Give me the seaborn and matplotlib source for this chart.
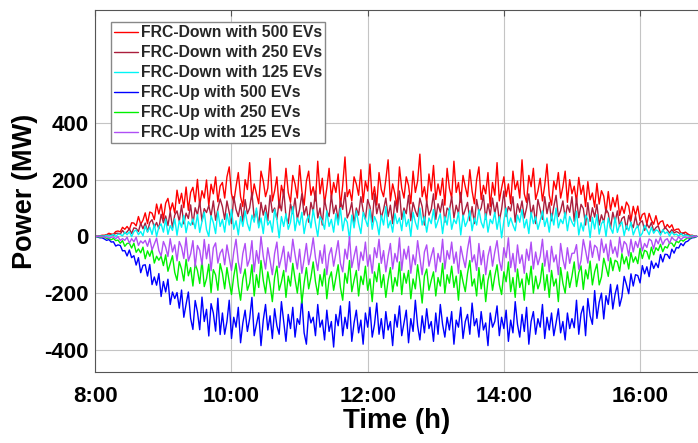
import numpy as np
import pandas as pd
import matplotlib
matplotlib.use("Agg")
import matplotlib.pyplot as plt
import seaborn as sns

# ---------------- data (2-minute samples from 8:00 to 16:50) ----------------
N_POINTS = 266
TIME_H = [8 + i / 30 for i in range(N_POINTS)]

SERIES_NAMES = ["FRC-Down with 500 EVs", "FRC-Down with 250 EVs", "FRC-Down with 125 EVs",
                "FRC-Up with 500 EVs", "FRC-Up with 250 EVs", "FRC-Up with 125 EVs"]
SERIES_COLORS = ["#FF0000", "#AA1E3C", "#00F5F5", "#0000FF", "#00F000", "#B04EF5"]

down_500 = [
    0, 1, 2, 4, 4, 6, 11, 8, 8, 17, 19, 16, 32, 25, 35, 24, 48, 47, 37, 70,
    43, 57, 83, 45, 86, 82, 59, 114, 79, 114, 61, 117, 134, 89, 118, 82, 163, 116, 152, 101,
    174, 92, 155, 173, 122, 201, 109, 161, 135, 199, 108, 184, 150, 210, 122, 177,
    190, 135, 210, 245, 150, 120, 175, 225, 140, 105, 200, 165, 260, 130, 185, 150, 115, 230, 195, 140,
    170, 275, 125, 160, 210, 100, 180, 145, 240, 155, 120, 215, 185, 135, 250, 160, 110, 195, 230, 145,
    175, 125, 265, 150, 205, 115, 170, 240, 135, 190, 155, 220, 105, 180, 280, 140, 165, 125, 210, 185,
    145, 235, 120, 195, 160, 255, 130, 175, 110, 225, 165, 140, 200, 270, 125, 185, 150, 105, 245, 170,
    135, 210, 180, 115, 230, 155, 195, 290, 140, 175, 120, 220, 160, 250, 130, 185, 145, 205, 110, 240,
    170, 135, 265, 155, 190, 120, 215, 175, 140, 235, 160, 115, 200, 245, 130, 180, 150, 225, 105, 190,
    145, 260, 125, 170, 210, 140, 185, 115, 230, 165, 195, 135, 270, 150, 120, 215, 175, 240, 130, 160,
    205, 125, 180, 255, 145, 110, 195, 165, 225, 135, 175, 230, 120, 200, 150,
    177, 122, 208, 148, 180, 105, 193, 129, 153, 103, 187, 114, 161, 142, 83, 158, 92, 137, 104, 146,
    74, 106, 81, 121, 107, 56, 106, 74, 107, 55, 77, 82, 43, 81, 57, 43, 73, 40, 52, 55,
    28, 42, 31, 41, 20, 25, 26, 12, 12, 15, 9, 4, 4, 1, 0]

down_250 = [
    0, 0, 2, 2, 2, 5, 4, 7, 4, 11, 11, 8, 21, 10, 16, 27, 10, 30, 28, 17,
    46, 27, 47, 16, 49, 59, 32, 49, 27, 78, 48, 72, 38, 88, 31, 75, 90, 53, 110, 44,
    82, 63, 111, 42, 101, 76, 123, 54, 98, 84, 109, 71, 125, 57, 97, 132,
    105, 60, 125, 85, 45, 140, 95, 70, 115, 50, 130, 80, 100, 155, 65, 90, 40, 120, 75, 110,
    55, 145, 85, 100, 60, 125, 90, 165, 70, 45, 115, 80, 135, 60, 95, 150, 75, 105, 50, 120,
    85, 160, 65, 100, 40, 130, 90, 70, 145, 80, 110, 55, 125, 95, 155, 65, 85, 120, 45, 100,
    75, 140, 90, 60, 130, 105, 50, 150, 80, 115, 65, 95, 135, 70, 110, 45, 125, 85, 160, 60,
    100, 80, 145, 55, 120, 90, 70, 135, 105, 40, 125, 75, 95, 150, 60, 115, 85, 130, 50, 100,
    90, 140, 65, 110, 80, 155, 70, 95, 120, 55, 105, 45, 130, 85, 100, 145, 60, 115, 75, 135,
    80, 120, 55, 95, 160, 70, 105, 90, 140, 50, 115, 85, 125, 65, 100, 150, 75, 110, 45, 130,
    95, 60, 140, 80, 120, 55, 105, 145, 70, 90, 125, 65, 110, 85, 140,
    53, 136, 66, 113, 98, 40, 119, 53, 101, 68, 113, 40, 76, 50, 96, 82, 28, 85, 51, 90,
    35, 63, 70, 26, 74, 47, 31, 72, 32, 49, 55, 21, 44, 30, 49, 19, 31, 37, 12, 18,
    33, 23, 12, 24, 12, 17, 13, 6, 12, 6, 6, 2, 3, 1, 0]

down_125 = [
    0, 0, 1, 1, 1, 4, 1, 3, 7, 0, 8, 7, 2, 15, 6, 16, -1, 17, 23, 6,
    17, 2, 36, 15, 32, 7, 43, 0, 33, 44, 15, 61, 7, 38, 21, 62, 4, 55, 32, 74,
    13, 52, 39, 62, 27, 77, 14, 52, 86, 24, 0, 73, 49, 10, 89, 35,
    60, 15, 80, 40, 95, 25, 55, 5, 70, 35, 90, 45, 20, 75, 50, 100, 30, 65, 10, 85,
    40, 55, 15, 95, 60, -5, 70, 35, 80, 25, 50, 105, 20, 65, 40, 85, 10, 55, 75, 30,
    95, 45, 0, 70, 55, 25, 90, 35, 60, 15, 80, 40, 100, 20, 65, 50, -10, 75, 30, 90,
    45, 10, 85, 60, 35, 95, 25, 70, 50, 5, 75, 40, 105, 30, 55, 15, 80, 45, 65, 20,
    90, 35, 60, 0, 85, 50, 25, 100, 40, 70, 15, 65, 45, 95, 30, 55, 80, 10, 70, 40,
    100, 25, 60, 45, 85, 5, 75, 35, 55, 90, 20, 65, 40, 95, 50, 30, 80, 15, 60, 45,
    85, 25, 70, -5, 55, 100, 35, 65, 40, 20, 75, 50, 95, 30, 60, 10, 85, 45, 70, 25,
    55, 90, 35, 65, 15, 80, 40, 100, 30, 60, 45, 85, 20, 70, 50,
    35, 89, 5, 48, 19, 75, 60, -4, 67, 26, 77, 8, 45, 56, 0, 65, 30, 11, 67, 14,
    40, 51, 3, 39, 20, 50, 5, 26, 38, 0, 11, 39, 23, 6, 32, 11, 23, 19, 4, 24,
    10, 16, 1, 16, 5, 8, 1, 11, 2, 5, 3, 0, 2, 0, 0]

up_500 = [
    0, -2, -5, -5, -9, -14, -11, -20, -19, -34, -30, -32, -51, -50, -69, -48, -75, -68, -101, -75,
    -128, -102, -100, -140, -99, -170, -143, -172, -131, -212, -159, -196, -151, -240, -196, -219, -198, -253, -189, -285,
    -239, -196, -289, -328, -226, -266, -329, -214, -300, -257, -351, -237, -270, -334, -218, -346,
    -270, -345, -300, -225, -360, -285, -320, -250, -375, -305, -260, -335, -290, -215, -350, -310, -270, -385, -295, -240,
    -330, -280, -360, -255, -315, -345, -230, -300, -370, -275, -325, -250, -355, -290, -310, -220, -340, -380, -265, -305,
    -285, -350, -240, -320, -295, -365, -260, -335, -300, -390, -275, -315, -245, -350, -285, -325, -230, -370, -305, -260,
    -340, -295, -380, -270, -320, -250, -355, -310, -235, -345, -290, -360, -265, -330, -300, -385, -275, -320, -245, -350,
    -305, -260, -375, -290, -335, -225, -315, -365, -280, -340, -255, -325, -300, -370, -270, -345, -240, -310, -355, -285,
    -330, -265, -380, -295, -320, -250, -360, -300, -275, -345, -235, -315, -290, -355, -265, -330, -305, -385, -270, -320,
    -300, -245, -350, -285, -325, -260, -370, -295, -340, -230, -310, -355, -275, -335, -250, -380, -300, -265, -345, -290,
    -320, -240, -360, -285, -330, -270, -350, -305, -255, -340, -300, -365, -270, -325, -290,
    -322, -225, -345, -273, -246, -350, -219, -280, -310, -191, -289, -232, -200, -291, -209, -240, -169, -256, -204, -171,
    -246, -213, -141, -170, -202, -132, -175, -135, -138, -164, -103, -132, -107, -142, -87, -113, -94, -110, -64, -90,
    -63, -64, -78, -45, -59, -39, -41, -25, -33, -20, -17, -9, -5, -4, 0]

up_250 = [
    0, -1, -3, -3, -3, -7, -7, -12, -7, -15, -13, -24, -15, -35, -25, -24, -41, -24, -56, -44,
    -58, -38, -79, -51, -70, -46, -94, -70, -84, -70, -103, -65, -123, -95, -68, -127, -155, -89, -115, -157,
    -81, -139, -110, -175, -97, -120, -166, -84, -177, -149, -98, -198, -117, -136, -190, -96,
    -130, -185, -110, -160, -205, -140, -95, -175, -225, -150, -115, -190, -165, -100, -210, -135, -180, -85, -155, -200,
    -125, -170, -230, -145, -105, -190, -160, -120, -215, -140, -175, -95, -150, -200, -130, -235, -165, -110, -185, -145,
    -90, -160, -205, -135, -175, -115, -220, -150, -125, -190, -145, -100, -180, -225, -130, -165, -85, -195, -155, -120,
    -210, -140, -170, -105, -190, -150, -230, -125, -160, -95, -180, -135, -215, -155, -110, -195, -145, -175, -90, -205,
    -130, -165, -120, -220, -150, -185, -100, -160, -235, -140, -115, -190, -155, -125, -210, -145, -175, -95, -200, -135,
    -165, -105, -180, -140, -225, -120, -160, -195, -130, -85, -175, -150, -210, -110, -185, -135, -230, -155, -120, -190,
    -140, -100, -170, -205, -125, -160, -90, -195, -145, -215, -115, -180, -150, -225, -130, -170, -105, -200, -140, -185,
    -160, -95, -190, -135, -215, -120, -175, -150, -230, -110, -165, -200, -125, -180, -140,
    -90, -177, -128, -104, -187, -118, -150, -87, -171, -125, -97, -171, -143, -77, -108, -141, -76, -121, -84, -90,
    -123, -61, -97, -72, -115, -57, -91, -72, -96, -42, -78, -49, -54, -80, -38, -65, -40, -50, -28, -54,
    -36, -41, -23, -24, -36, -17, -22, -11, -17, -10, -6, -7, -2, -2, 0]

up_125 = [
    0, 0, -1, -1, -3, -1, -6, -3, -2, -8, -1, -14, -8, -14, -3, -24, -8, -19, -3, -32,
    -16, -24, -14, -35, -8, -48, -27, -6, -50, -69, -18, -38, -71, -8, -55, -30, -86, -18, -38, -78,
    -4, -87, -62, -15, -107, -32, -49, -100, -11, -79, -28, -121, -40, -23, -94, -59,
    -45, -100, -30, -75, -120, -55, -10, -90, -130, -60, -25, -105, -80, -15, -125, -50, -95, 0, -70, -115,
    -40, -85, -135, -60, -20, -110, -75, -35, -125, -55, -90, -10, -65, -115, -45, -130, -80, -25, -100, -60,
    -5, -75, -120, -50, -95, -30, -135, -65, -40, -105, -60, -15, -95, -125, -45, -80, 0, -110, -70, -35,
    -120, -55, -85, -20, -105, -65, -130, -40, -75, -10, -95, -50, -125, -70, -25, -115, -60, -90, -5, -120,
    -45, -80, -35, -130, -65, -100, -15, -75, -135, -55, -30, -105, -70, -40, -125, -60, -90, -10, -115, -50,
    -80, -20, -95, -55, -130, -35, -75, -110, -45, 0, -90, -65, -120, -25, -100, -50, -135, -70, -35, -105,
    -55, -15, -85, -120, -40, -75, -5, -110, -60, -125, -30, -95, -65, -130, -45, -85, -20, -115, -55, -100,
    -70, -10, -105, -50, -125, -35, -90, -65, -135, -25, -80, -115, -40, -95, -60,
    -59, -29, -116, -85, -11, -50, -94, -16, -74, -31, -40, -85, -9, -57, -27, -86, -13, -60, -37, -73,
    -3, -57, -18, -28, -69, -10, -55, -18, -39, -5, -51, -25, -39, -9, -15, -44, -10, -26, -3, -29,
    -13, -8, -25, -3, -12, -15, -1, -11, -4, -2, -6, -2, -2, 0, 0]

SERIES_VALUES = [down_500, down_250, down_125, up_500, up_250, up_125]

X_TICKS = [8, 10, 12, 14, 16]
X_TICK_LABELS = ["8:00", "10:00", "12:00", "14:00", "16:00"]
Y_TICKS = [-400, -200, 0, 200, 400]

# ---------------- build long-form table ----------------
frames = []
for name, vals in zip(SERIES_NAMES, SERIES_VALUES):
    frames.append(pd.DataFrame({"time": TIME_H, "power": vals, "series": name}))
df = pd.concat(frames, ignore_index=True)

# ---------------- style ----------------
sns.set_theme(style="white")
plt.rcParams["font.family"] = ["Liberation Sans", "DejaVu Sans"]
plt.rcParams["font.weight"] = "bold"
plt.rcParams["axes.unicode_minus"] = False

W, H = 698, 443
fig = plt.figure(figsize=(W / 100, H / 100), dpi=100)
left, bottom, top = 95.3, 372, 10
ax = fig.add_axes([left / W, 1 - bottom / H, (W - left) / W, (bottom - top) / H])

palette = dict(zip(SERIES_NAMES, SERIES_COLORS))
sns.lineplot(data=df, x="time", y="power", hue="series", hue_order=SERIES_NAMES,
             palette=palette, estimator=None, sort=False, linewidth=1.0,
             ax=ax, legend=True)

ax.set_xlim(8, 16.851)
ax.set_ylim(-478, 798)
ax.set_xticks(X_TICKS)
ax.set_xticklabels(X_TICK_LABELS)
ax.set_yticks(Y_TICKS)
ax.grid(True, color="#c4c4c4", linewidth=0.8)
ax.set_axisbelow(True)

for side in ["left", "bottom", "top"]:
    ax.spines[side].set_color("#555555")
    ax.spines[side].set_linewidth(0.8)
ax.spines["right"].set_visible(False)

ax.tick_params(axis="both", direction="in", length=4, width=0.8, color="#555555",
               labelsize=16, top=True, right=False)
ax.tick_params(axis="x", pad=10)
ax.tick_params(axis="y", pad=5)
for lab in ax.get_xticklabels() + ax.get_yticklabels():
    lab.set_fontweight("bold")
    lab.set_color("black")

ax.set_xlabel("Time (h)", fontsize=20, fontweight="bold", labelpad=1, color="black")
ax.set_ylabel("Power (MW)", fontsize=19.5, fontweight="bold", labelpad=4, color="black")

handles, labels = ax.get_legend_handles_labels()
for h in handles:
    h.set_linewidth(1.0)
leg = ax.legend(handles, labels, loc="upper left",
                bbox_to_anchor=(111 / W, 1 - 22 / H), bbox_transform=fig.transFigure,
                borderaxespad=0, labelspacing=0.32, handlelength=1.55,
                handletextpad=0.15, borderpad=0.2, frameon=True, fancybox=False,
                framealpha=1, edgecolor="#888888", prop={"weight": "bold", "size": 11.3})
leg.get_frame().set_linewidth(1.0)

fig.savefig("out.png", dpi=100)
